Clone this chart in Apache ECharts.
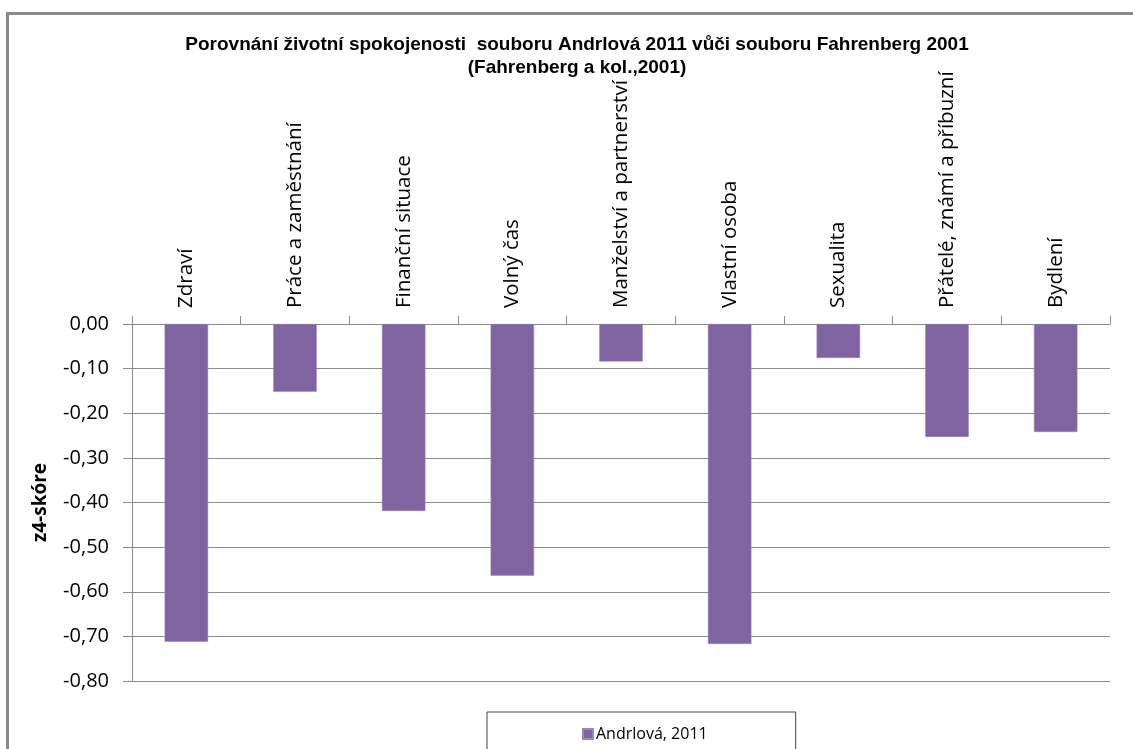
<!DOCTYPE html>
<html>
<head>
<meta charset="utf-8">
<script src="https://cdn.jsdelivr.net/npm/echarts@6/dist/echarts.min.js"></script>
<style>
html,body{margin:0;padding:0;background:#fff;}
#chart{width:1133px;height:749px;}
</style>
</head>
<body>
<div id="chart"></div>
<script>
const titleLines = ['Porovnání životní spokojenosti  souboru Andrlová 2011 vůči souboru Fahrenberg 2001', '(Fahrenberg a kol.,2001)'];
const categories = ['Zdraví', 'Práce a zaměstnání', 'Finanční situace', 'Volný čas', 'Manželství a partnerství', 'Vlastní osoba', 'Sexualita', 'Přátelé, známí a příbuzní', 'Bydlení'];
const seriesName = 'Andrlová, 2011';
const values = [-0.712, -0.152, -0.419, -0.564, -0.084, -0.717, -0.076, -0.253, -0.242];
const yAxisName = 'z4-skóre';
const yMin = -0.8, yMax = 0, yStep = 0.1;

const chart = echarts.init(document.getElementById('chart'));
const gridColor = '#8c8c8c';
chart.setOption({
  backgroundColor: '#fff',
  animation: false,
  title: {
    text: titleLines.join('\n'),
    left: 572, textAlign: 'center', top: 28,
    textStyle: { fontFamily: 'Liberation Sans', fontWeight: 'bold', fontSize: 19, color: '#000', lineHeight: 23 }
  },
  graphic: [{
    type: 'rect', shape: { x: 7.5, y: 13.5, width: 1300, height: 900 },
    style: { fill: 'none', stroke: '#8a8a8a', lineWidth: 3 }, silent: true
  }],
  legend: {
    left: 487, top: 712,
    padding: [14, 88, 20, 95],
    borderColor: '#404040', borderWidth: 1,
    itemWidth: 10, itemHeight: 10, itemGap: 5,
    icon: 'rect',
    textStyle: { fontFamily: 'Open Sans', fontSize: 16, color: '#000', padding: [0, 0, 0, -2] },
    data: [seriesName]
  },
  grid: { left: 132, right: 23, top: 324, bottom: 68, containLabel: false },
  xAxis: {
    type: 'category', data: categories, position: 'top',
    axisLine: { lineStyle: { color: gridColor, width: 1 } },
    axisTick: { show: true, length: 8, lineStyle: { color: gridColor } },
    axisLabel: { rotate: 90, margin: 16, interval: 0, fontFamily: 'Open Sans', fontSize: 20.5, color: '#000' },
    splitLine: { show: false }
  },
  yAxis: {
    type: 'value', min: yMin, max: yMax, interval: yStep,
    name: yAxisName, nameLocation: 'middle', nameGap: 82, nameRotate: 90,
    nameTextStyle: { fontFamily: 'Open Sans', fontWeight: 'bold', fontSize: 19, color: '#000' },
    axisLine: { show: true, lineStyle: { color: gridColor } },
    axisTick: { show: true, length: 9, lineStyle: { color: gridColor } },
    axisLabel: { margin: 23, fontFamily: 'Open Sans', fontSize: 20, color: '#000',
      formatter: v => (Math.abs(v) < 1e-9 ? 0 : v).toFixed(2).replace('.', ',') },
    splitLine: { show: true, lineStyle: { color: gridColor, width: 1 } }
  },
  series: [{
    type: 'bar', name: seriesName, data: values,
    barWidth: '40%',
    itemStyle: { color: '#8064A2', borderColor: '#9a84b8', borderWidth: 0.5 }
  }]
});
</script>
</body>
</html>
